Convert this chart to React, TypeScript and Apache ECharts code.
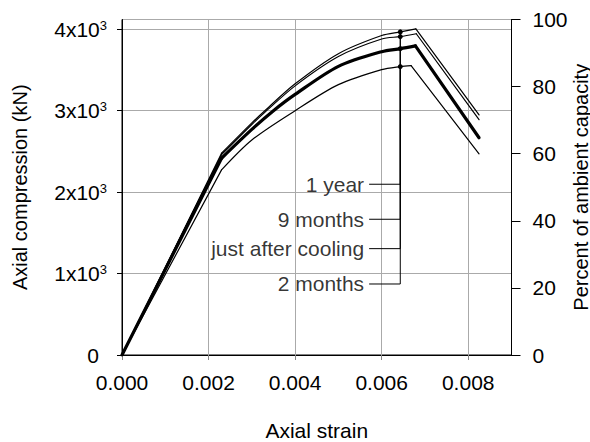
import React, { useEffect, useRef } from "react";
import * as echarts from "echarts";

// Axis ranges / ticks
const strainTicks = [0, 0.002, 0.004, 0.006, 0.008];
const strainMax = 0.009;
const loadMax = 4120; // kN, = 100 % ambient capacity
const loadInterval = 1000;
const percentTicksInterval = 20;

// Curves (axial strain, axial compression kN); index 1 is the elastic knee
const strain1Year = [0, 0.0023, 0.003, 0.0033, 0.004, 0.005, 0.006, 0.00643, 0.00679, 0.00825];
const load1Year = [0, 2478, 2850, 3000, 3330, 3700, 3923, 3968, 4005, 2948];
const strain9Months = [0, 0.0023, 0.003, 0.0033, 0.004, 0.005, 0.006, 0.00643, 0.0068, 0.00825];
const load9Months = [0, 2460, 2830, 2980, 3305, 3665, 3880, 3910, 3945, 2890];
const strainJustAfterCooling = [0, 0.0023, 0.003, 0.0035, 0.004, 0.005, 0.006, 0.00643, 0.00678, 0.00825];
const loadJustAfterCooling = [0, 2416, 2770, 3000, 3200, 3545, 3725, 3762, 3796, 2668];
const strain2Months = [0, 0.0023, 0.003, 0.004, 0.005, 0.006, 0.00643, 0.00668, 0.00825];
const load2Months = [0, 2273, 2640, 3000, 3320, 3505, 3542, 3554, 2470];

// Annotations
const labelNames = ["1 year", "9 months", "just after cooling", "2 months"];
const labelLoads = [2097, 1667, 1306, 872];
const labelStrain = 0.00571;
const leaderStrain = 0.00643;

const FONT = "Liberation Sans, Arial, Helvetica, sans-serif";
const FS = 21; // horizontal texts
const FSV = 20; // rotated axis titles

const curves = [
  { name: "1 year", xs: strain1Year, ys: load1Year, width: 1.2 },
  { name: "9 months", xs: strain9Months, ys: load9Months, width: 1.2 },
  { name: "just after cooling", xs: strainJustAfterCooling, ys: loadJustAfterCooling, width: 3.2 },
  { name: "2 months", xs: strain2Months, ys: load2Months, width: 1.2 },
];

function pairs(xs: number[], ys: number[]) {
  return xs.map((x, i) => [x, ys[i]]);
}

function valueAt(xs: number[], ys: number[], x: number) {
  const i = xs.indexOf(x);
  return i >= 0 ? ys[i] : 0;
}

export default function App() {
  const ref = useRef<HTMLDivElement>(null);
  useEffect(() => {
    const chart = echarts.init(ref.current!, null, { renderer: "svg" });

    const curveSeries: any[] = [];
    curves.forEach((c) => {
      const all = pairs(c.xs, c.ys);
      const peakIdx = c.ys.indexOf(Math.max(...c.ys));
      const base = {
        type: "line",
        xAxisIndex: 0,
        yAxisIndex: 0,
        showSymbol: false,
        symbol: "none",
        lineStyle: { color: "#000", width: c.width, cap: "round", join: "round" },
        z: 3,
        silent: true,
      };
      // elastic branch (straight)
      curveSeries.push({ ...base, data: all.slice(0, 2) });
      // hardening branch (smooth)
      curveSeries.push({ ...base, data: all.slice(1, peakIdx + 1), smooth: 0.3 });
      // softening branch (straight)
      curveSeries.push({ ...base, data: all.slice(peakIdx) });
    });

    const leaderSeries = labelNames.map((n, k) => {
      const c = curves.find((cc) => cc.name === n)!;
      const top = valueAt(c.xs, c.ys, leaderStrain);
      return {
        type: "line",
        xAxisIndex: 0,
        yAxisIndex: 0,
        data: [
          { value: [labelStrain, labelLoads[k]], symbolSize: 0 },
          { value: [leaderStrain, labelLoads[k]], symbolSize: 0 },
          { value: [leaderStrain, top], symbolSize: 5 },
        ],
        symbol: "circle",
        showSymbol: true,
        itemStyle: { color: "#000" },
        lineStyle: { color: "#000", width: 1 },
        z: 4,
        silent: true,
      };
    });

    const labelSeries = {
      type: "scatter",
      xAxisIndex: 0,
      yAxisIndex: 0,
      symbolSize: 0,
      data: labelNames.map((n, k) => ({ name: n, value: [labelStrain, labelLoads[k]] })),
      label: {
        show: true,
        position: "left",
        distance: 5,
        formatter: (p: any) => p.name,
        color: "#000",
        fontFamily: FONT,
        fontSize: FS,
      },
      z: 5,
      silent: true,
    };

    chart.setOption({
      animation: false,
      backgroundColor: "#fff",
      textStyle: { fontFamily: FONT },
      grid: {
        left: 122,
        right: 78.5,
        top: 19.5,
        bottom: 87,
        containLabel: false,
        outerBoundsMode: "none",
        show: true,
        borderColor: "#000",
        borderWidth: 1,
        backgroundColor: "transparent",
      },
      xAxis: {
        type: "value",
        min: 0,
        max: strainMax,
        interval: 0.002,
        name: "Axial strain",
        nameLocation: "middle",
        nameGap: 66,
        nameMoveOverlap: false,
        nameTextStyle: { color: "#000", fontSize: FS, lineHeight: 18, fontFamily: FONT },
        axisLine: { show: true, lineStyle: { color: "#000", width: 1 } },
        axisTick: { show: true, length: 5, lineStyle: { color: "#888" } },
        axisLabel: {
          color: "#000",
          fontSize: FS,
          fontFamily: FONT,
          margin: 17,
          showMaxLabel: false,
          formatter: (v: number) =>
            strainTicks.some((t) => Math.abs(t - v) < 1e-9) ? v.toFixed(3) : "",
        },
        splitLine: { show: true, lineStyle: { color: "#aaa", width: 1 } },
      },
      yAxis: [
        {
          type: "value",
          position: "left",
          min: 0,
          max: loadMax,
          interval: loadInterval,
          name: "Axial compression (kN)",
          nameLocation: "middle",
          nameGap: 92,
          nameMoveOverlap: false,
          nameTextStyle: { color: "#000", fontSize: FSV, fontFamily: FONT },
          axisLine: { show: true, lineStyle: { color: "#000", width: 1 } },
          axisTick: { show: true, length: 5, lineStyle: { color: "#000" } },
          axisLabel: {
            color: "#000",
            margin: 15,
            showMaxLabel: false,
            formatter: (v: number) => {
              if (v % loadInterval !== 0) return "";
              if (v === 0) return "{z|0}";
              return `{b|${v / 1000}x10}{s|3}`;
            },
            rich: {
              b: { fontSize: FS, fontFamily: FONT, color: "#000" },
              z: { fontSize: FS, fontFamily: FONT, color: "#000", padding: [0, 8, 0, 0] },
              s: { fontSize: 13, fontFamily: FONT, color: "#000", verticalAlign: "top", padding: [0, 0, 6, 0] },
            },
          },
          splitLine: { show: true, lineStyle: { color: "#aaa", width: 1 } },
        },
        {
          type: "value",
          position: "right",
          min: 0,
          max: 100,
          interval: percentTicksInterval,
          name: "Percent of ambient capacity",
          nameLocation: "middle",
          nameGap: 60,
          nameMoveOverlap: false,
          nameTextStyle: { color: "#000", fontSize: FSV, lineHeight: 18, fontFamily: FONT },
          axisLine: { show: true, lineStyle: { color: "#000", width: 1 } },
          axisTick: { show: true, length: 9, lineStyle: { color: "#000" } },
          axisLabel: { color: "#000", fontSize: FS, fontFamily: FONT, margin: 21 },
          splitLine: { show: false },
        },
      ],
      series: [...leaderSeries, ...curveSeries, labelSeries],
    });

    return () => chart.dispose();
  }, []);

  return (
    <div
      ref={ref}
      style={{ position: "fixed", left: 0, top: 0, width: 590, height: 442, background: "#fff" }}
    />
  );
}
